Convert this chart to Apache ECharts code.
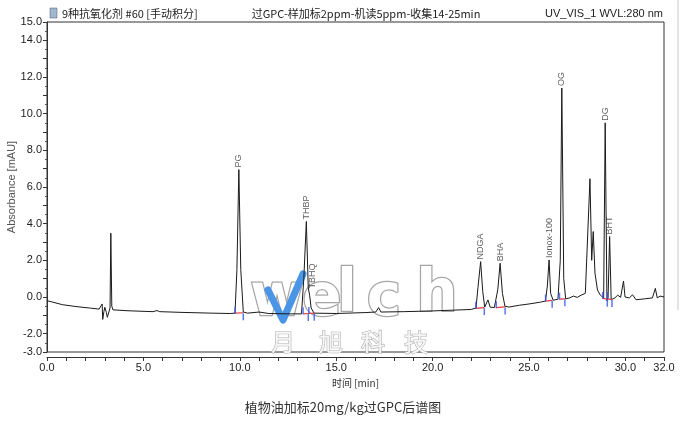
<!DOCTYPE html>
<html><head><meta charset="utf-8">
<script src="https://cdn.jsdelivr.net/npm/echarts@6/dist/echarts.min.js"></script>
<style>html,body{margin:0;padding:0;background:#fff;}#c{width:686px;height:423px;}</style>
</head><body><div id="c"></div>
<script>
// Chromatogram trace (time in min, absorbance in mAU)
const traceTime = [0.00,0.30,0.80,1.50,2.20,2.70,2.79,2.86,2.89,2.95,3.00,3.08,3.13,3.22,3.27,3.31,3.36,3.42,4.20,5.50,5.70,5.85,7.00,8.50,9.50,9.75,9.85,9.95,10.05,10.18,10.40,11.00,11.10,11.50,12.50,13.20,13.32,13.45,13.55,13.62,13.70,13.85,15.00,16.50,17.05,17.20,17.32,18.50,20.00,21.00,22.00,22.25,22.35,22.49,22.60,22.70,22.87,22.98,23.20,23.38,23.50,23.62,23.75,23.85,23.95,24.50,25.00,25.60,25.85,25.95,26.04,26.12,26.25,26.50,26.62,26.70,26.80,26.90,27.10,27.30,27.50,27.70,27.80,27.92,28.16,28.25,28.33,28.42,28.55,28.70,28.80,28.87,28.95,29.04,29.10,29.18,29.26,29.45,29.60,29.75,29.90,29.98,30.20,30.37,30.55,31.00,31.40,31.55,31.65,31.80,32.00];
const traceValue = [-0.20,-0.28,-0.42,-0.52,-0.60,-0.66,-0.67,-0.38,-1.22,-0.80,-0.56,-0.85,-1.11,-1.17,-0.60,3.48,-0.50,-0.70,-0.75,-0.80,-0.74,-0.80,-0.84,-0.88,-0.90,-0.88,1.50,6.95,1.50,-0.82,-0.88,-0.82,-0.90,-0.90,-0.92,-0.92,1.00,4.12,0.50,0.10,-0.60,-0.88,-0.90,-0.85,-0.82,-0.58,-0.82,-0.80,-0.76,-0.72,-0.68,-0.60,0.50,1.93,0.30,-0.55,-0.16,-0.55,-0.58,0.40,1.84,0.20,-0.50,-0.44,-0.55,-0.45,-0.38,-0.28,-0.22,0.60,2.02,0.20,-0.18,-0.12,2.00,11.40,1.00,-0.10,-0.05,0.05,-0.02,0.10,0.00,0.20,6.45,2.00,3.57,1.30,0.38,0.10,0.20,-0.05,9.50,-0.20,0.00,3.30,-0.15,-0.05,0.10,-0.02,0.87,0.00,-0.05,0.12,-0.15,-0.10,-0.05,0.47,-0.05,0.05,0.00];

// Named peaks
const peakNames  = ['PG','THBP','TBHQ','NDGA','BHA','Ionox-100','OG','DG','BHT'];
const peakTime   = [9.95,13.45,13.75,22.49,23.50,26.04,26.70,28.95,29.18];
const peakHeight = [6.95,4.12,0.35,1.93,1.84,2.02,11.40,9.50,3.30];

// Integration limits
const intStart    = [9.76,13.28,13.58,22.24,23.30,25.86,26.58,28.82,29.08];
const intStartVal = [-0.88,-0.92,-0.90,-0.62,-0.58,-0.22,-0.12,-0.08,-0.10];
const intEnd      = [10.18,13.55,13.86,22.68,23.76,26.20,26.86,29.06,29.30];
const intEndVal   = [-0.86,-0.90,-0.88,-0.58,-0.54,-0.18,-0.10,-0.12,-0.14];

// Axis settings
const xMin = 0, xMax = 32, yMin = -3, yMax = 15;
const headerLeft = '9种抗氧化剂 #60 [手动积分]';
const headerMid = '过GPC-样加标2ppm-机读5ppm-收集14-25min';
const headerRight = 'UV_VIS_1 WVL:280 nm';
const caption = '植物油加标20mg/kg过GPC后谱图';

const trace = traceTime.map((t,i)=>[t,traceValue[i]]);
const labels = peakNames.map((n,i)=>({name:n,value:[peakTime[i],peakHeight[i]]}));
const redSeg = [];
intStart.forEach((s,i)=>{redSeg.push([s,intStartVal[i]]);redSeg.push([intEnd[i],intEndVal[i]]);redSeg.push([intEnd[i],'-']);});
const tickStart = intStart.map((s,i)=>[s,intStartVal[i]]);
const tickEnd = intEnd.map((s,i)=>[s,intEndVal[i]]);

const chart = echarts.init(document.getElementById('c'));
const font = 'Liberation Sans, Arial, sans-serif';
const cjk = '"Noto Sans CJK SC", sans-serif';
const wm = {font:'bold 58px "DejaVu Sans"',fill:'#ffffff',stroke:'#a6a6a6',lineWidth:2.5,textAlign:'center',textVerticalAlign:'middle',shadowColor:'rgba(0,0,0,0.35)',shadowBlur:4,shadowOffsetX:1,shadowOffsetY:2};
function wmText(ch,x,y){return {type:'text',x:x,y:y,style:Object.assign({text:ch},wm)};}
const cn = {font:'24px '+cjk,fill:'#f6f6f6',stroke:'#b0b0b0',lineWidth:1.2,textAlign:'center',textVerticalAlign:'middle',shadowColor:'rgba(0,0,0,0.25)',shadowBlur:2,shadowOffsetY:1};
function cnText(ch,x,y){return {type:'text',x:x,y:y,style:Object.assign({text:ch},cn)};}
chart.setOption({
  animation:false,
  backgroundColor:'#fff',
  grid:{left:47,right:22,top:22,bottom:71,containLabel:false,outerBoundsMode:'none',show:true,borderColor:'#333',borderWidth:1,backgroundColor:'transparent'},
  xAxis:{type:'value',min:xMin,max:xMax,interval:1,offset:5,
    name:'时间 [min]',nameLocation:'middle',nameGap:21,nameMoveOverlap:false,
    nameTextStyle:{fontSize:10,color:'#333',fontFamily:cjk},
    axisLine:{onZero:false,lineStyle:{color:'#333'}},
    axisTick:{length:4,lineStyle:{color:'#333'}},
    splitLine:{show:false},
    axisLabel:{fontSize:11,color:'#222',fontFamily:font,margin:5,showMaxLabel:true,
      formatter:v=>(v%5===0||v===32)?v.toFixed(1):''}},
  yAxis:{type:'value',min:yMin,max:yMax,interval:1,
    name:'Absorbance [mAU]',nameLocation:'middle',nameGap:30,nameMoveOverlap:false,
    nameTextStyle:{fontSize:11,color:'#555',fontFamily:font},
    axisLine:{onZero:false,lineStyle:{color:'#333'}},
    axisTick:{length:4,lineStyle:{color:'#333'}},
    minorTick:{show:true,splitNumber:2,length:2,lineStyle:{color:'#555'}},
    splitLine:{show:false},
    axisLabel:{fontSize:11,color:'#222',fontFamily:font,margin:5,
      formatter:v=>(v%2===0||v===-3||v===15)?v.toFixed(1):''}},
  series:[
    {type:'line',data:trace,symbol:'none',lineStyle:{color:'#1a1a1a',width:1},z:3},
    {type:'line',data:redSeg,symbol:'none',connectNulls:false,lineStyle:{color:'#e8383a',width:1.2},z:4},
    {type:'scatter',data:tickStart,symbol:'rect',symbolSize:[1.5,7],symbolOffset:[0,-3],itemStyle:{color:'#3355ee'},z:5},
    {type:'scatter',data:tickEnd,symbol:'rect',symbolSize:[1.5,7],symbolOffset:[0,4],itemStyle:{color:'#3355ee'},z:5},
    {type:'scatter',data:labels,symbolSize:0,z:6,
      label:{show:true,position:'top',distance:2,rotate:90,align:'left',verticalAlign:'middle',
        formatter:p=>p.name,fontSize:9,color:'#333',fontFamily:font}}
  ],
  graphic:[
    {type:'rect',shape:{x:50,y:8,width:7,height:10},style:{fill:'#9fb7cf',stroke:'#556',lineWidth:0.5}},
    {type:'text',left:62,top:8,style:{text:headerLeft,font:'11px '+cjk,fill:'#222'}},
    {type:'text',x:366,y:14,style:{text:headerMid,font:'11px '+cjk,fill:'#222',textAlign:'center',textVerticalAlign:'middle'}},
    {type:'text',x:663,y:14,style:{text:headerRight,font:'11px '+font,fill:'#222',textAlign:'right',textVerticalAlign:'middle'}},
    {type:'text',x:343,y:407,style:{text:caption,font:'13px '+cjk,fill:'#333',textAlign:'center',textVerticalAlign:'middle'}},
    {type:'group',z:100,children:[
      wmText('w',277,300), wmText('e',322,300), wmText('l',347,296), wmText('c',384,300), wmText('h',437,296),
      {type:'polyline',shape:{points:[[268,290],[283,320],[303,274]]},style:{stroke:'#4a95e6',lineWidth:7,fill:null,lineJoin:'round',lineCap:'round'}},
      cnText('月',283,342), cnText('旭',331,342), cnText('科',373,342), cnText('技',416,342)
    ]},
    {type:'line',shape:{x1:678,y1:0,x2:678,y2:310},style:{stroke:'#c8c8c8',lineWidth:1}}
  ]
});
</script></body></html>
